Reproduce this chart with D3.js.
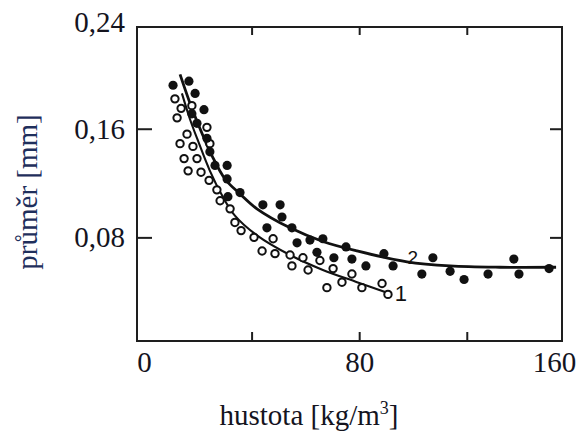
<!DOCTYPE html>
<html>
<head>
<meta charset="utf-8">
<script src="https://cdn.jsdelivr.net/npm/d3@7"></script>
<style>
  html, body { margin: 0; padding: 0; background: #fff; }
  svg { display: block; }
  .lbl { font-family: "Liberation Serif", "Times New Roman", serif; font-size: 29px; fill: #14141e; }
</style>
</head>
<body>
<div id="chart"></div>
<script>
// ── Data (hustota kg/m3, průměr mm) ─────────────────────────
const series2Density  = [10.8, 16.7, 19.0, 22.3, 17.8, 19.7, 23.4, 24.5, 26.4, 30.9, 30.9, 35.7, 31.2, 44.2, 50.6, 51.3, 45.7, 55.0, 56.9, 61.7, 66.5, 64.3, 70.6, 75.1, 77.3, 82.5, 89.2, 92.6, 103.3, 107.4, 113.8, 119.0, 127.9, 137.5, 139.4, 150.6];
const series2Diameter = [0.192, 0.195, 0.186, 0.174, 0.171, 0.164, 0.153, 0.143, 0.133, 0.133, 0.123, 0.113, 0.110, 0.104, 0.104, 0.095, 0.087, 0.087, 0.076, 0.078, 0.079, 0.069, 0.065, 0.073, 0.064, 0.059, 0.068, 0.059, 0.053, 0.065, 0.055, 0.049, 0.053, 0.064, 0.053, 0.057];

const series1Density  = [11.5, 13.8, 12.3, 17.8, 16.0, 23.4, 13.4, 18.2, 24.5, 14.9, 19.7, 16.4, 21.2, 24.2, 27.1, 28.3, 32.0, 33.8, 36.1, 40.9, 48.0, 43.9, 48.7, 54.3, 59.1, 65.4, 55.0, 61.0, 70.3, 77.3, 68.0, 73.6, 81.0, 88.5, 90.7];
const series1Diameter = [0.182, 0.175, 0.168, 0.177, 0.156, 0.161, 0.149, 0.147, 0.149, 0.138, 0.138, 0.129, 0.128, 0.122, 0.115, 0.107, 0.101, 0.091, 0.085, 0.080, 0.079, 0.070, 0.068, 0.067, 0.065, 0.063, 0.059, 0.056, 0.057, 0.053, 0.043, 0.047, 0.043, 0.046, 0.038];

// fitted curves
const curve2Density  = [13.4, 17.8, 21.9, 25.3, 30.1, 35.7, 42.0, 54.3, 66.5, 79.2, 97.8, 113.8, 132.3, 153.2];
const curve2Diameter = [0.200, 0.175, 0.155, 0.140, 0.123, 0.112, 0.101, 0.087, 0.077, 0.070, 0.062, 0.059, 0.058, 0.058];
const curve1Density  = [14.1, 17.1, 20.1, 24.5, 29.0, 33.8, 42.0, 54.3, 66.5, 79.2, 90.7];
const curve1Diameter = [0.186, 0.167, 0.151, 0.129, 0.111, 0.096, 0.0815, 0.067, 0.056, 0.047, 0.039];

const xTickLabels = [0, 80, 160];
const xTickMarks  = [40, 80, 120];
const yTickLabels = [0.08, 0.16, 0.24];
const yTickMarks  = [0.08, 0.16];

// ── Layout ─────────────────────────────────────────────────
const W = 582, H = 432;
const mLeft = 137, mRight = 562, mTop = 27, mBottom = 341;

const svg = d3.select('#chart').append('svg')
    .attr('width', W).attr('height', H);

const x = d3.scaleLinear().domain([-2.6, 155.4]).range([mLeft, mRight]);
const y = d3.scaleLinear().domain([0.0037, 0.2349]).range([mBottom, mTop]);
const xc = x.copy().clamp(true);
const yc = y.copy().clamp(true);

// Rámeček
svg.append('rect')
    .attr('x', mLeft).attr('y', mTop)
    .attr('width', mRight - mLeft).attr('height', mBottom - mTop)
    .attr('fill', 'none').attr('stroke', '#1e1e1e').attr('stroke-width', 2);

// Vnitřní značky
const tickStyle = sel => {
    sel.select('.domain').remove();
    sel.selectAll('line').attr('stroke', '#1e1e1e').attr('stroke-width', 2);
};
svg.append('g').attr('transform', `translate(0,${mBottom})`)
    .call(d3.axisBottom(x).tickValues(xTickMarks).tickSize(-9).tickFormat(''))
    .call(tickStyle);
svg.append('g').attr('transform', `translate(0,${mTop})`)
    .call(d3.axisTop(x).tickValues(xTickMarks).tickSize(-8).tickFormat(''))
    .call(tickStyle);
svg.append('g').attr('transform', `translate(${mLeft},0)`)
    .call(d3.axisLeft(y).tickValues(yTickMarks).tickSize(-15).tickFormat(''))
    .call(tickStyle);
svg.append('g').attr('transform', `translate(${mRight},0)`)
    .call(d3.axisRight(y).tickValues(yTickMarks).tickSize(-12).tickFormat(''))
    .call(tickStyle);

// Popisky os
const fmt = d => String(d).replace('.', ',');
const labelStyle = sel => {
    sel.select('.domain').remove();
    sel.selectAll('line').remove();
    sel.selectAll('text').attr('class', 'lbl').attr('fill', null)
        .attr('font-family', null).attr('font-size', null);
};
const gy = svg.append('g').attr('transform', `translate(${mLeft},0)`)
    .call(d3.axisLeft(yc).tickValues(yTickLabels).tickSize(0).tickPadding(12).tickFormat(fmt))
    .call(labelStyle);
gy.selectAll('text').filter(d => d === 0.24).attr('dy', '0.15em');
const gx = svg.append('g').attr('transform', `translate(0,${mBottom})`)
    .call(d3.axisBottom(xc).tickValues(xTickLabels).tickSize(0).tickPadding(10).tickFormat(fmt))
    .call(labelStyle);
gx.selectAll('text').filter(d => d === 160).attr('dx', -8);

// Křivky
const line = d3.line().x(d => x(d[0])).y(d => y(d[1])).curve(d3.curveCatmullRom.alpha(0.5));
svg.append('path').datum(d3.zip(curve2Density, curve2Diameter))
    .attr('d', line).attr('fill', 'none').attr('stroke', '#111').attr('stroke-width', 2.8);
svg.append('path').datum(d3.zip(curve1Density, curve1Diameter))
    .attr('d', line).attr('fill', 'none').attr('stroke', '#111').attr('stroke-width', 2.1);

// Body
svg.append('g').selectAll('circle').data(d3.zip(series1Density, series1Diameter)).join('circle')
    .attr('cx', d => x(d[0])).attr('cy', d => y(d[1])).attr('r', 3.7)
    .attr('fill', '#fff').attr('stroke', '#111').attr('stroke-width', 2);
svg.append('g').selectAll('circle').data(d3.zip(series2Density, series2Diameter)).join('circle')
    .attr('cx', d => x(d[0])).attr('cy', d => y(d[1])).attr('r', 4.6)
    .attr('fill', '#111');

// Čísla křivek
svg.append('text').attr('x', x(98)).attr('y', y(0.0605))
    .style('font-family', '"Liberation Sans", sans-serif').style('font-size', '19px').style('fill', '#111')
    .text('2');
svg.append('text').attr('x', x(93.2)).attr('y', y(0.0335))
    .style('font-family', '"Liberation Sans", sans-serif').style('font-size', '22px').style('fill', '#111')
    .text('1');

// Názvy os
svg.append('text').attr('class', 'lbl')
    .attr('x', 309).attr('y', 425).attr('text-anchor', 'middle')
    .html('hustota [kg/m<tspan font-size="18" dy="-11">3</tspan><tspan dy="11">]</tspan>');
svg.append('text').attr('class', 'lbl')
    .attr('transform', 'translate(37,192) rotate(-90)').attr('text-anchor', 'middle')
    .style('fill', '#1f2f5c')
    .text('průměr [mm]');
</script>
</body>
</html>
